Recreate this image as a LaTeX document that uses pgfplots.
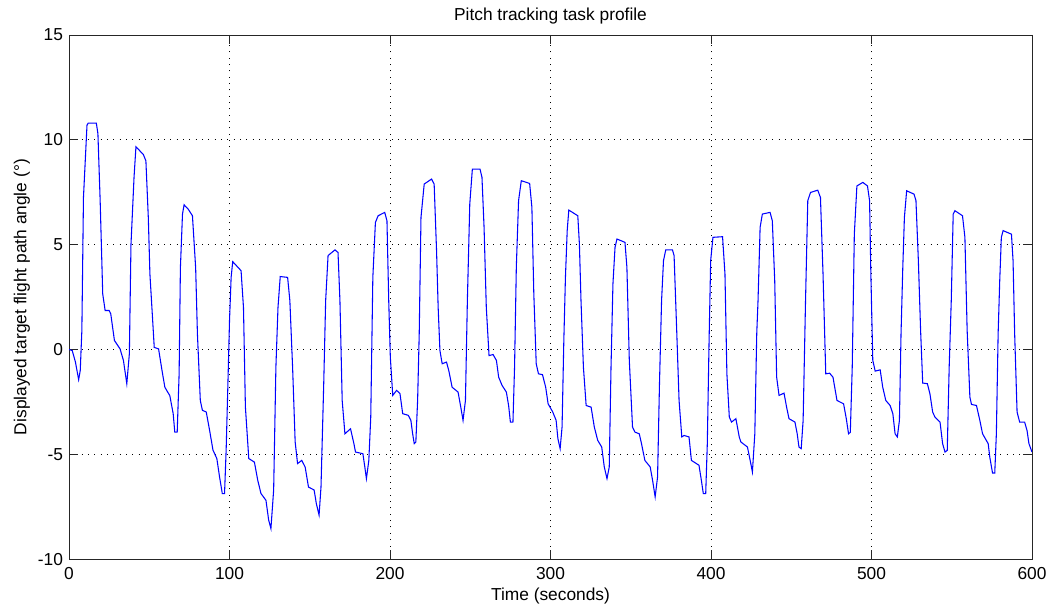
\documentclass[border=0pt]{standalone}
\usepackage{pgfplots}
\pgfplotsset{compat=1.18}
\usepackage{fontspec}
\setmainfont{Liberation Sans}
\begin{document}
\fontsize{13pt}{15pt}\selectfont
\begin{tikzpicture}
\begin{axis}[
  scale only axis,
  width=722pt, height=393pt,
  xmin=0, xmax=600, ymin=-10, ymax=15,
  xtick={0,100,...,600}, ytick={-10,-5,0,5,10,15},
  /pgf/number format/assume math mode=true,
  ticklabel style={font=\fontsize{13pt}{15pt}\selectfont},
  xticklabel style={yshift=-1.5pt},
  tick align=inside,
  major tick length=7pt,
  xtick pos=both, ytick pos=both,
  axis line style={black!85, line width=0.6pt},
  every tick/.style={black!85, line width=0.6pt},
  grid=major,
  major grid style={black, line width=0.6pt, dash pattern=on 0.75pt off 4pt},
  title={Pitch tracking task profile},
  title style={at={(axis description cs:0.5,1.013)}, anchor=base, font=\fontsize{13pt}{15pt}\selectfont},
  xlabel={Time (seconds)},
  xlabel style={at={(axis description cs:0.5,-0.0782)}, anchor=base, font=\fontsize{13pt}{15pt}\selectfont},
  ylabel={Displayed target flight path angle (°)},
  ylabel style={at={(axis description cs:-0.0443,0.5)}, anchor=base, font=\fontsize{13pt}{15pt}\selectfont},
]
\addplot[blue, line width=0.8pt, mark=none] coordinates {
(0,0) (2,-0.05) (4,-0.6) (6,-1.44) (7,-1.0) (8,0.9) (9,7.25) (11.2,10.7) (12,10.8) (17,10.8) (18,10.3)
(19.4,7.1) (21,2.65) (22.5,1.86) (25,1.86) (26,1.7) (28.3,0.43) (31.8,0.03) (33.9,-0.52) (36,-1.63)
(37.6,-0.2) (38.6,5.0) (40.5,8.2) (41.7,9.67) (46.3,9.3) (47.9,9.0) (49.4,6.3) (50.4,3.6) (52,1.54)
(53.1,0.1) (55.8,0.03) (57.6,-0.84) (59.7,-1.8) (62.8,-2.2) (64.9,-3.06) (65.9,-3.94) (67.4,-3.94)
(68.6,-1.16) (69.4,3.9) (70.7,6.46) (71.7,6.9) (74.2,6.7) (76.9,6.38) (78.9,3.9) (80,0.75) (81.8,-2.43)
(83.1,-2.9) (85.5,-2.98) (87.6,-3.86) (89.7,-4.8) (92.1,-5.2) (93.8,-6.08) (95.5,-6.87) (96.9,-6.87)
(97.9,-4.8) (99,-1.63) (100,1.38) (101,3.44) (102,4.19) (107.2,3.76) (108.7,2.0) (109.9,-2.75) (112,-5.2)
(115.5,-5.37) (117.6,-6.24) (119.6,-6.87) (122.7,-7.19) (124.4,-8.14) (125.8,-8.54) (127.5,-6.7)
(128.9,-0.84) (130.2,2.0) (131.6,3.48) (136.2,3.44) (137.6,2.33) (139.3,-0.84) (140.9,-4.41)
(142.4,-5.44) (145,-5.29) (147.1,-5.6) (149.2,-6.56) (152.7,-6.7) (154.1,-7.35) (155.8,-7.9) (157,-6.56)
(158.7,-1.63) (159.9,2.33) (161.4,4.48) (165.7,4.75) (167.6,4.63) (168.8,2.33) (170.2,-2.43)
(171.9,-4.02) (175.4,-3.78) (177.5,-4.49) (178.5,-4.89) (183.1,-4.97) (184.3,-5.6) (185.3,-6.16)
(186.8,-5.29) (188,-3.22) (189.3,3.44) (190.9,6.06) (192.6,6.38) (196.7,6.54) (198.1,6.14) (199.2,2.33)
(200.2,-0.37) (201.7,-2.19) (204.1,-1.95) (206.2,-2.1) (207.9,-3.06) (211.4,-3.14) (213,-3.38)
(214.1,-4.02) (215.1,-4.49) (216.1,-4.41) (217.2,-2.43) (218.2,0.75) (219.3,6.3) (221.3,7.89)
(225.9,8.13) (227.5,7.89) (229,4.71) (230,2.0) (231.1,-0.05) (232.5,-0.68) (235.2,-0.6) (236.6,-1.0)
(238.7,-1.8) (242.4,-2.03) (244.1,-2.75) (245.5,-3.38) (247,-2.43) (248.2,2.33) (249.7,6.94) (251.3,8.6)
(256.1,8.6) (257.3,8.21) (258.6,5.83) (260,2.0) (261.7,-0.29) (264.2,-0.24) (266.3,-0.52) (267.7,-1.32)
(269.8,-1.71) (272.5,-2.03) (273.9,-2.67) (275,-3.46) (276.6,-3.46) (277.6,-0.84) (278.7,3.92)
(280.1,7.1) (281.8,8.05) (287,7.92) (288.4,6.78) (289.6,2.65) (291.1,-0.68) (292.5,-1.16) (295,-1.2)
(297,-1.8) (298.5,-2.59) (301.4,-2.98) (303.5,-3.38) (304.6,-4.25) (306,-4.73) (307.2,-3.7) (308.3,0.43)
(309.3,3.44) (310.4,5.67) (311.4,6.65) (317,6.38) (318,5.03) (319,2.33) (320.5,-0.84) (322.2,-2.67)
(325.3,-2.75) (327.3,-3.7) (329.4,-4.33) (331.9,-4.65) (333.5,-5.6) (335.2,-6.16) (336.6,-5.6)
(337.7,-0.84) (338.9,3.13) (340.2,4.87) (341.4,5.27) (346.4,5.11) (347.6,3.92) (349.1,-0.52)
(351.1,-3.7) (352.6,-3.94) (355.3,-4.02) (356.7,-4.49) (358.8,-5.29) (362.1,-5.6) (363.6,-6.24)
(365.2,-7.03) (366.7,-6.08) (367.9,-1.63) (369.2,2.33) (370.4,4.24) (371.8,4.75) (376,4.75) (377,4.48)
(378.7,0.75) (380.1,-2.43) (381.8,-4.17) (383.2,-4.1) (386.3,-4.17) (387.8,-5.29) (392.5,-5.52)
(394,-6.24) (395.2,-6.87) (396.7,-6.87) (397.7,-4.49) (398.8,0.43) (399.8,4.24) (401.2,5.35)
(407.2,5.38) (408.7,3.6) (409.9,-1.16) (411.4,-3.22) (412.8,-3.46) (415.5,-3.3) (417.6,-4.17)
(418.6,-4.41) (422.7,-4.65) (424.4,-5.29) (425.8,-5.84) (427.3,-4.02) (428.5,0.75) (429.3,2.33)
(430.6,5.83) (432,6.46) (436.8,6.54) (438.2,6.14) (439.7,3.29) (440.9,-1.32) (442.4,-2.19) (445.5,-2.08)
(447.1,-2.75) (448.6,-3.3) (452.3,-3.46) (453.7,-4.02) (454.8,-4.65) (456.2,-4.73) (457.4,-3.38)
(458.9,2.33) (460.3,7.1) (462,7.49) (466.5,7.6) (468.2,7.25) (469.8,3.6) (471.5,-1.16) (473.9,-1.13)
(476,-1.32) (478.5,-2.43) (482.6,-2.59) (484.3,-3.3) (485.7,-4.02) (486.8,-3.95) (488,-0.84) (489.3,5.5)
(490.9,7.8) (494.6,7.97) (497.5,7.8) (498.8,7.1) (499.6,3.6) (500.8,-0.52) (502.3,-1.03) (505.4,-0.97)
(507,-1.8) (508.9,-2.43) (511.6,-2.67) (513.3,-3.06) (514.7,-4.02) (516.1,-4.17) (517.4,-3.38)
(518.4,0.75) (519.5,3.92) (520.5,6.3) (521.9,7.57) (526.5,7.41) (527.7,7.1) (529.2,4.24) (530.6,0.9)
(531.9,-1.6) (534.8,-1.63) (536.4,-2.11) (538.1,-2.98) (539.5,-3.22) (542.7,-3.46) (544.3,-4.49)
(545.8,-4.89) (547.2,-4.81) (548.4,-0.84) (549.7,2.33) (550.9,6.46) (552,6.62) (556.7,6.38) (558.2,5.35)
(559.6,0.9) (561.3,-2.27) (562.3,-2.62) (565.4,-2.67) (567.5,-3.38) (569.2,-4.02) (572.7,-4.49)
(573.7,-5.13) (575.4,-5.89) (576.8,-5.89) (577.8,-4.02) (578.9,0.75) (579.9,3.29) (580.9,5.35) (582,5.67)
(587.2,5.5) (588.2,4.24) (589.2,0.75) (590.7,-2.98) (592.3,-3.46) (595.4,-3.46) (596.9,-3.86)
(598.1,-4.49) (600,-4.89)
};
\end{axis}
\pgfresetboundingbox
\path[use as bounding box] (current axis.south west) ++(-51.75pt,-36.75pt) rectangle ([shift={(15pt,26.25pt)}]current axis.north east);
\end{tikzpicture}
\end{document}
